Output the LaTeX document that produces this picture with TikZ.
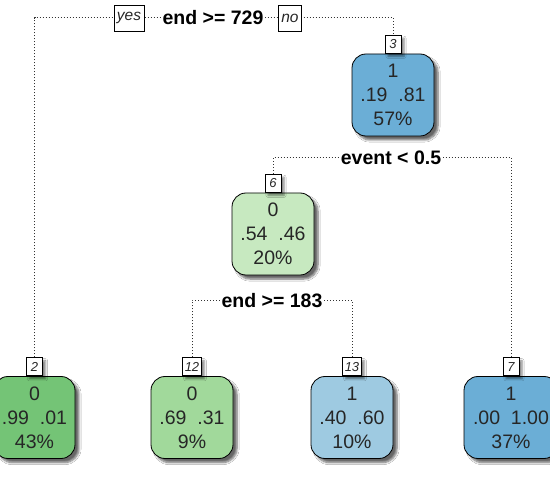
\documentclass[tikz,border=0pt]{standalone}
\usepackage{fontspec}
\setmainfont{Liberation Sans}
\usetikzlibrary{shadows.blur}
\definecolor{gdark}{HTML}{74C476}
\definecolor{gmid}{HTML}{A1D99B}
\definecolor{glight}{HTML}{C7E9C0}
\definecolor{blight}{HTML}{9ECAE1}
\definecolor{bdark}{HTML}{6BAED6}
\begin{document}
\begin{tikzpicture}[x=1pt,y=-1pt,
  leaf/.style={draw=black, line width=0.8pt, rounded corners=14pt,
    minimum width=82pt, minimum height=82pt, inner sep=0pt, align=center,
    font=\fontsize{19.5}{24}\selectfont, text=black!85,
    blur shadow={shadow xshift=4pt, shadow yshift=-4pt, shadow blur steps=6, shadow opacity=60}},
  num/.style={draw=black, fill=white, line width=0.6pt,
    font=\fontsize{13}{13}\selectfont\itshape, text=black!85,
    inner xsep=2pt, inner ysep=0pt, minimum height=18pt, minimum width=16pt, anchor=south,
    blur shadow={shadow xshift=3pt, shadow yshift=-3pt, shadow blur steps=4, shadow opacity=50}},
  split/.style={fill=white, font=\fontsize{19.5}{20}\selectfont\bfseries, inner xsep=2pt, inner ysep=1pt},
  yn/.style={draw=black, fill=white, line width=0.6pt, font=\fontsize{15.5}{16}\selectfont\itshape,
    text=black!85, minimum height=26pt, inner xsep=3pt, inner ysep=0pt},
  conn/.style={dash pattern=on 1pt off 2pt, line width=1pt, draw=black!80}]
\clip (0,0) rectangle (550,500);
\fill[white] (0,0) rectangle (550,500);
% nodes
\node[leaf, fill=bdark] (n3) at (393,95) {1\\.19~~.81\\57\%};
\node[num] (l3) at (n3.north) {3};
\node[leaf, fill=glight] (n6) at (273,234) {0\\.54~~.46\\20\%};
\node[num] (l6) at (n6.north) {6};
\node[leaf, fill=gdark, minimum width=81pt] (n2) at (34.5,417.5) {0\\.99~~.01\\43\%};
\node[num] (l2) at (n2.north) {2};
\node[leaf, fill=gmid] (n12) at (192,417.5) {0\\.69~~.31\\9\%};
\node[num] (l12) at (n12.north) {12};
\node[leaf, fill=blight] (n13) at (352,417.5) {1\\.40~~.60\\10\%};
\node[num] (l13) at (n13.north) {13};
\node[leaf, fill=bdark, minimum width=94pt] (n7) at (511,417.5) {1\\.00~~1.00\\37\%};
\node[num] (l7) at (n7.north) {7};
% split coordinates
\coordinate (r) at (213,17.6);
\coordinate (e) at (391,157.5);
\coordinate (f) at (272,300.5);
% connectors
\draw[conn] (l2.north) |- (r) -| (l3.north);
\draw[conn] (l6.north) |- (e) -| (l7.north);
\draw[conn] (l12.north) |- (f) -| (l13.north);
% split labels
\node[split] (sr) at (r) {end >= 729};
\node[yn] (yes) at (129,18) {yes};
\node[yn] (no) at (290,18) {no};
\node[split] (se) at (e) {event < 0.5};
\node[split] (sf) at (f) {end >= 183};
\end{tikzpicture}
\end{document}
